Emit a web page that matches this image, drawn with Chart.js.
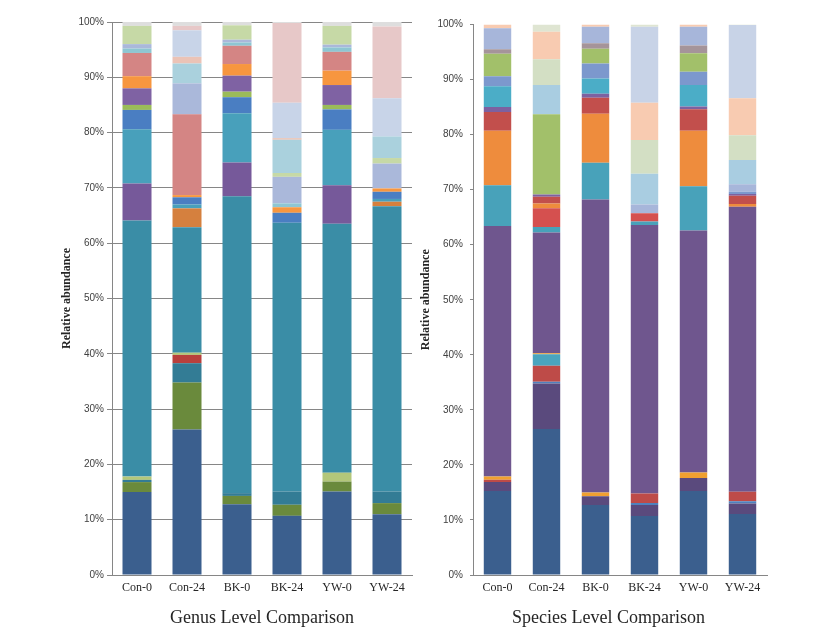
<!DOCTYPE html>
<html>
<head>
<meta charset="utf-8">
<script src="https://cdn.jsdelivr.net/npm/chart.js@4.4.1/dist/chart.umd.min.js"></script>
<style>
  html, body { margin: 0; padding: 0; background: #fff; }
  #wrap { position: relative; width: 822px; height: 628px; overflow: hidden; }
  canvas { position: absolute; top: 0; }
  #genusChart { left: 0; }
  #speciesChart { left: 420px; }
</style>
</head>
<body>
<div id="wrap">
  <canvas id="genusChart" width="420" height="628"></canvas>
  <canvas id="speciesChart" width="402" height="628"></canvas>
</div>
<script>
const samples = ["Con-0", "Con-24", "BK-0", "BK-24", "YW-0", "YW-24"];
const yTicks = [0, 10, 20, 30, 40, 50, 60, 70, 80, 90, 100];

// ----------- Genus level, % per sample (stack order bottom -> top) -----------
const gDarkBlue  = [15.0, 26.3, 12.8, 10.7, 15.1, 11.0];
const gOlive     = [1.8, 8.5, 1.5, 2.0, 1.8, 2.0];
const gDarkTeal  = [0.4, 3.5, 0.5, 2.4, 0, 2.1];
const gRed       = [0, 1.5, 0, 0, 0, 0];
const gLime      = [0.6, 0.4, 0, 0, 1.6, 0];
const gTeal      = [46.3, 22.7, 53.7, 48.6, 45.0, 51.6];
const gPurple    = [6.7, 0, 6.1, 0, 7.0, 0];
const gRust      = [0, 3.4, 0, 0, 0, 0.8];
const gCyan      = [9.8, 0.7, 8.9, 0, 10.0, 0.5];
const gBlue      = [3.5, 1.3, 2.9, 1.8, 3.7, 1.3];
const gGreen     = [0.9, 0, 1.0, 0, 0.8, 0];
const gViolet    = [3.0, 0, 2.9, 0, 3.6, 0];
const gOrange    = [2.2, 0.4, 2.1, 1.0, 2.6, 0.6];
const gSalmon    = [4.2, 14.6, 3.3, 0, 3.4, 0];
const gAqua      = [0.8, 0, 0.6, 0.7, 0.8, 0];
const gLavender  = [0.8, 5.6, 0.5, 4.8, 0.5, 4.5];
const gSage      = [3.3, 0, 2.6, 0.7, 3.4, 1.0];
const gIce       = [0, 3.6, 0, 6.0, 0, 3.9];
const gBlush     = [0, 1.2, 0, 0.3, 0, 0];
const gMist      = [0, 4.8, 0, 6.4, 0, 6.9];
const gRose      = [0, 0.8, 0, 14.4, 0, 13.0];
const gOther     = [0.7, 0.7, 0.6, 0.2, 0.7, 0.8];

const genusSeries = [gDarkBlue, gOlive, gDarkTeal, gRed, gLime, gTeal, gPurple, gRust, gCyan, gBlue,
  gGreen, gViolet, gOrange, gSalmon, gAqua, gLavender, gSage, gIce, gBlush, gMist, gRose, gOther];
const genusColors = ["#3b5f8e", "#6a8a3c", "#337c95", "#b8403c", "#b3c77a", "#3a8da6", "#76599a", "#d5803e",
  "#48a0bb", "#4a7ec2", "#9bbb59", "#7f62a3", "#f7963f", "#d48584", "#8ec6d2", "#aab8da", "#c6d9a6",
  "#aad1dd", "#ebc3b6", "#c8d4e8", "#e7c8c8", "#dedede"];

// ----------- Species level -----------
const sDarkBlue   = [15.25, 26.5, 12.7, 10.7, 15.25, 11.1];
const sPlum       = [1.65, 8.3, 1.6, 2.0, 2.35, 1.9];
const sSteel      = [0, 0.3, 0, 0.4, 0, 0.4];
const sBrick      = [0.4, 2.9, 0, 1.7, 0, 1.7];
const sTealLow    = [0, 2.1, 0, 0, 0, 0];
const sAmber      = [0.6, 0.2, 0.7, 0, 1.0, 0];
const sPurple     = [45.5, 21.9, 53.2, 48.8, 44.0, 51.8];
const sTeal       = [7.4, 1.0, 6.7, 0.6, 8.0, 0];
const sCoral      = [0, 3.4, 0, 1.5, 0, 0];
const sOrange     = [9.9, 0.9, 8.9, 0, 10.1, 0.5];
const sRed        = [3.4, 1.2, 2.9, 0, 3.9, 1.5];
const sViolet     = [0.9, 0.4, 0.7, 0, 0.5, 0.3];
const sCyan       = [3.8, 0, 2.8, 0, 3.9, 0];
const sPeriwinkle = [1.8, 0, 2.7, 0, 2.4, 0.4];
const sGreen      = [4.1, 14.6, 2.7, 0, 3.4, 0];
const sMix        = [0.8, 0, 1.0, 0, 1.4, 0];
const sLavender   = [3.8, 0, 3.0, 1.6, 3.4, 1.4];
const sIce        = [0, 5.3, 0, 5.6, 0, 4.4];
const sSage       = [0, 4.7, 0, 6.1, 0, 4.5];
const sPeach      = [0.7, 5.0, 0.4, 6.8, 0.4, 6.7];
const sMist       = [0, 0, 0, 13.8, 0, 13.3];
const sPale       = [0, 1.3, 0, 0.4, 0, 0.1];

const speciesSeries = [sDarkBlue, sPlum, sSteel, sBrick, sTealLow, sAmber, sPurple, sTeal, sCoral, sOrange,
  sRed, sViolet, sCyan, sPeriwinkle, sGreen, sMix, sLavender, sIce, sSage, sPeach, sMist, sPale];
const speciesColors = ["#3b5f8e", "#5a4a7d", "#4f81bd", "#be4b48", "#4aa5bf", "#f0a030", "#6f568e", "#48a2ba",
  "#d5504f", "#ee8c3d", "#c24f4c", "#7d61a0", "#4badc7", "#7c98cd", "#a2c06a", "#a5949a", "#a7b6da",
  "#a9cde1", "#d3dfc4", "#f8cbb1", "#c8d3e7", "#dfe5d2"];

const serif = "'Liberation Serif', 'Times New Roman', serif";
const sans = "'Liberation Sans', Arial, sans-serif";
const axisColor = "#868686";
const textColor = "#262626";

function buildDatasets(series, colors, barPct) {
  return series.map((data, i) => ({
    data,
    backgroundColor: colors[i],
    borderWidth: 0,
    barPercentage: barPct,
    categoryPercentage: 1,
  }));
}

function yScale(opts) {
  return {
    stacked: true,
    min: 0,
    max: 100,
    afterBuildTicks: (s) => { s.ticks = yTicks.map((v) => ({ value: v })); },
    ticks: {
      callback: (v) => v + "%",
      font: { family: sans, size: 10 },
      color: "#404040",
      padding: opts.tickPad,
    },
    grid: {
      color: axisColor,
      tickLength: opts.tickLen,
      drawOnChartArea: opts.gridLines,
    },
    border: { display: true, color: axisColor },
    title: {
      display: true,
      text: "Relative abundance",
      color: textColor,
      font: { family: serif, size: 12, weight: "bold" },
      padding: { top: opts.titlePad, bottom: 0 },
    },
    afterFit: (s) => { s.width = opts.width; },
  };
}

function xTicks() {
  return { font: { family: serif, size: 12 }, color: textColor, padding: 6 };
}

// ----------- Genus chart -----------
new Chart(document.getElementById("genusChart").getContext("2d"), {
  type: "bar",
  data: { labels: samples, datasets: buildDatasets(genusSeries, genusColors, 0.58) },
  options: {
    responsive: false,
    animation: false,
    devicePixelRatio: 1,
    layout: { padding: { left: 0, right: 8, top: 22, bottom: 0 } },
    plugins: { legend: { display: false }, tooltip: { enabled: false } },
    scales: {
      x: {
        stacked: true,
        grid: { display: false, drawTicks: false },
        border: { display: true, color: axisColor },
        ticks: xTicks(),
        title: {
          display: true,
          text: "Genus Level Comparison",
          color: textColor,
          font: { family: serif, size: 18, lineHeight: 1.1 },
          padding: 0,
        },
        afterFit: (s) => { s.height = 53; },
      },
      y: yScale({ tickPad: 3, tickLen: 5, gridLines: true, titlePad: 59.8, width: 112 }),
    },
  },
});

// ----------- Species chart -----------
// caption sits a bit left of the plot centre, so an empty right-hand box shifts the chart area
new Chart(document.getElementById("speciesChart").getContext("2d"), {
  type: "bar",
  data: { labels: samples, datasets: buildDatasets(speciesSeries, speciesColors, 0.56) },
  options: {
    responsive: false,
    animation: false,
    devicePixelRatio: 1,
    layout: { padding: { left: 0, right: 25, top: 24.5, bottom: 0 } },
    plugins: {
      legend: { display: false },
      tooltip: { enabled: false },
      title: {
        display: true,
        position: "bottom",
        text: "Species Level Comparison",
        color: textColor,
        font: { family: serif, size: 18, weight: "normal", lineHeight: 1.1 },
        padding: { top: 13.2, bottom: 0 },
      },
    },
    scales: {
      x: {
        stacked: true,
        grid: { display: false, drawTicks: false },
        border: { display: true, color: axisColor },
        ticks: xTicks(),
        afterFit: (s) => { s.height = 20; },
      },
      y: yScale({ tickPad: 7, tickLen: 3, gridLines: false, titlePad: -1.2, width: 53 }),
      spacer: {
        position: "right",
        display: true,
        ticks: { display: false },
        grid: { display: false, drawTicks: false },
        border: { display: false },
        afterFit: (s) => { s.width = 30; },
      },
    },
  },
});
</script>
</body>
</html>
